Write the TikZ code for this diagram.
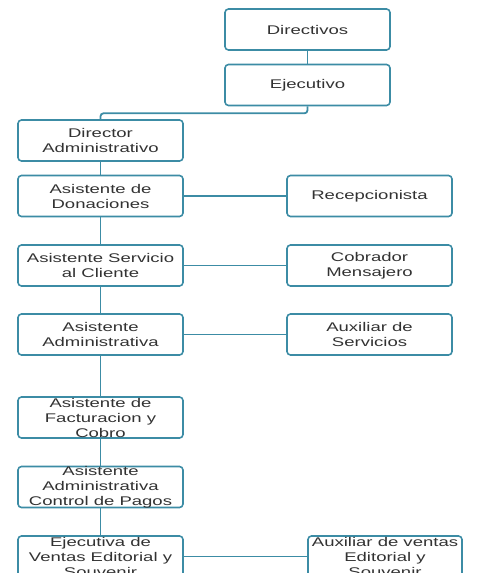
\documentclass[tikz,border=0pt]{standalone}
\usepackage{fontspec}
\setmainfont[FakeStretch=1.47]{Liberation Sans}
\usepackage{tikz}
\usetikzlibrary{positioning}
\definecolor{boxteal}{RGB}{60,140,165}
\definecolor{txtgray}{RGB}{50,50,50}

\begin{document}
\begin{tikzpicture}[x=1pt,y=1pt,
  every node/.style={font=\fontsize{12.6}{15}\selectfont},
  puesto/.style={draw=boxteal,line width=1.6pt,rounded corners=3.5pt,
                 minimum width=165pt,minimum height=41pt,inner sep=0pt},
  txt/.style={align=center,text=txtgray,inner sep=0pt},
  enlace/.style={draw=boxteal,line width=1.8pt,rounded corners=3pt}]
\clip (0,0) rectangle (477,-573);
% cabeza
\node[puesto,label={[txt]center:Directivos}] (dirv) at (307.5,-29.5) {};
\node[puesto,label={[txt]center:Ejecutivo}] (ejec) at (307.5,-85) {};
% columna izquierda
\node[puesto,label={[txt]center:Director\\Administrativo}] (dadm) at (100.5,-140.5) {};
\node[puesto,label={[txt]center:Asistente de\\Donaciones}] (adon) at (100.5,-196) {};
\node[puesto,label={[txt]center:Asistente Servicio\\al Cliente}] (aser) at (100.5,-265.5) {};
\node[puesto,label={[txt]center:Asistente\\Administrativa}] (aadm) at (100.5,-334.5) {};
\node[puesto,label={[txt]center:Asistente de\\Facturacion y\\Cobro}] (afac) at (100.5,-417.5) {};
\node[puesto,label={[txt]center:Asistente\\Administrativa\\Control de Pagos}] (acpg) at (100.5,-487) {};
\node[puesto,label={[txt]center:Ejecutiva de\\Ventas Editorial y\\Souvenir}] (ejvt) at (100.5,-556.5) {};
% columna derecha
\node[puesto,label={[txt]center:Recepcionista}] (recp) at (369.5,-196) {};
\node[puesto,label={[txt]center:Cobrador\\Mensajero}] (cobr) at (369.5,-265.5) {};
\node[puesto,label={[txt]center:Auxiliar de\\Servicios}] (axsv) at (369.5,-334.5) {};
\node[puesto,minimum width=154pt,label={[txt]center:Auxiliar de ventas\\Editorial y\\Souvenir}] (axvt) at (385,-556.5) {};
% enlaces
\draw[enlace] (dirv) -- (ejec);
\draw[enlace] (ejec.south) -- ++(0,-7) -| (dadm.north);
\draw[enlace] (dadm) -- (adon);
\draw[enlace] (adon) -- (aser);
\draw[enlace] (aser) -- (aadm);
\draw[enlace] (aadm) -- (afac);
\draw[enlace] (afac) -- (acpg);
\draw[enlace] (acpg) -- (ejvt);
\draw[enlace] (adon) -- (recp);
\draw[enlace] (aser) -- (cobr);
\draw[enlace] (aadm) -- (axsv);
\draw[enlace] (ejvt) -- (axvt);
\end{tikzpicture}
\end{document}
